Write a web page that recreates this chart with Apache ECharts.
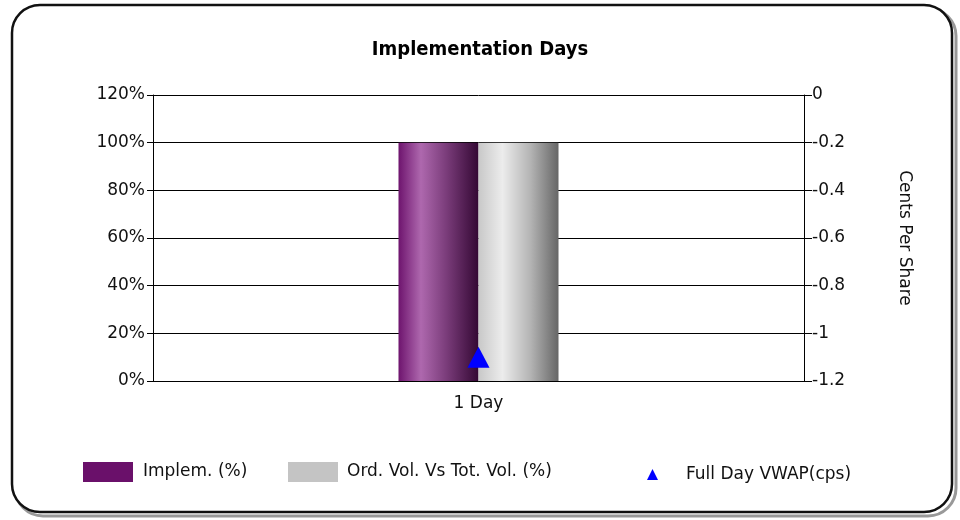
<!DOCTYPE html>
<html><head><meta charset="utf-8">
<script src="https://cdn.jsdelivr.net/npm/echarts@6/dist/echarts.min.js"></script>
<style>html,body{margin:0;padding:0;background:#fff}#c{width:960px;height:520px}</style>
</head><body><div id="c"></div>
<script>
const categories = ['1 Day'];
const implemPct = [100];
const ordVolPct = [100];
const vwapCps = [-1.1];
const leftTicks = ['0%','20%','40%','60%','80%','100%','120%'];
const rightTicks = ['-1.2','-1','-0.8','-0.6','-0.4','-0.2','0'];

const FONT = 'DejaVu Sans';
const FS = 17;
const chart = echarts.init(document.getElementById('c'));
const purpleGrad = new echarts.graphic.LinearGradient(0,0,1,0,[
  {offset:0,color:'#6e146e'},{offset:0.28,color:'#ae68ae'},{offset:0.6,color:'#7a3c7a'},{offset:1,color:'#340834'}]);
const grayGrad = new echarts.graphic.LinearGradient(0,0,1,0,[
  {offset:0,color:'#c8c8c8'},{offset:0.3,color:'#ececec'},{offset:0.65,color:'#b4b4b4'},{offset:1,color:'#666666'}]);
chart.setOption({
  animation:false,
  backgroundColor:'#fff',
  graphic:[
    {type:'rect',shape:{x:15,y:8,width:941,height:508,r:28},style:{fill:'none',stroke:'#999',lineWidth:3},z:-1},
    {type:'rect',shape:{x:12,y:5,width:940,height:507,r:28},style:{fill:'#fff',stroke:'#111',lineWidth:2.5},z:-1}
  ],
  title:{text:'Implementation Days',left:'center',top:35,
    textStyle:{fontFamily:'DejaVu Sans Condensed',fontWeight:'bold',fontSize:20,color:'#000'}},
  grid:{left:153,right:156,top:95,bottom:139},
  legend:[
    {data:[{name:'Implem. (%)',icon:'rect',itemStyle:{color:'#6a106a'}}],left:83,top:462,padding:0,itemWidth:50,itemHeight:20,
      textStyle:{fontFamily:FONT,fontSize:FS,color:'#111',padding:[3,0,0,5]}},
    {data:[{name:'Ord. Vol. Vs Tot. Vol. (%)',icon:'rect',itemStyle:{color:'#c4c4c4'}}],left:288,top:462,padding:0,itemWidth:50,itemHeight:20,
      textStyle:{fontFamily:FONT,fontSize:FS,color:'#111',padding:[3,0,0,4]}},
    {data:[{name:'Full Day VWAP(cps)',icon:'triangle',itemStyle:{color:'#0000ff',opacity:1}}],left:647,top:466,padding:0,itemWidth:11,itemHeight:11,
      textStyle:{fontFamily:FONT,fontSize:FS,color:'#111',padding:[0,0,0,23]}}
  ],
  xAxis:{type:'category',data:categories,
    axisLine:{lineStyle:{color:'#000',width:1}},
    axisTick:{alignWithLabel:true,length:5,lineStyle:{color:'#000'}},
    axisLabel:{fontFamily:FONT,fontSize:FS,color:'#111',margin:14}},
  yAxis:[
    {type:'value',min:0,max:120,interval:20,position:'left',
      axisLine:{show:true,lineStyle:{color:'#000'}},
      axisTick:{show:true,length:6,lineStyle:{color:'#000'}},
      splitLine:{show:true,lineStyle:{color:'#000',width:1}},
      axisLabel:{fontFamily:FONT,fontSize:FS,color:'#111',margin:8,
        formatter:(v)=>leftTicks[Math.round(v/20)]}},
    {type:'value',min:-1.2,max:0,interval:0.2,position:'right',
      name:'Cents Per Share',nameLocation:'middle',nameRotate:-90,nameGap:92,
      nameTextStyle:{fontFamily:FONT,fontSize:FS,color:'#111'},
      axisLine:{show:true,lineStyle:{color:'#000'}},
      axisTick:{show:true,length:8,lineStyle:{color:'#000'}},
      splitLine:{show:false},
      axisLabel:{fontFamily:FONT,fontSize:FS,color:'#111',margin:8,
        formatter:(v)=>rightTicks[Math.round((v+1.2)/0.2)]}}
  ],
  series:[
    {name:'Implem. (%)',type:'bar',data:implemPct,barWidth:80,barGap:'0%',yAxisIndex:0,
      itemStyle:{color:purpleGrad}},
    {name:'Ord. Vol. Vs Tot. Vol. (%)',type:'bar',data:ordVolPct,barWidth:80,yAxisIndex:0,
      itemStyle:{color:grayGrad}},
    {name:'Full Day VWAP(cps)',type:'scatter',data:vwapCps,yAxisIndex:1,symbol:'triangle',symbolSize:[22,21],
      itemStyle:{color:'#0000ff',opacity:1},z:5}
  ]
});
</script></body></html>
